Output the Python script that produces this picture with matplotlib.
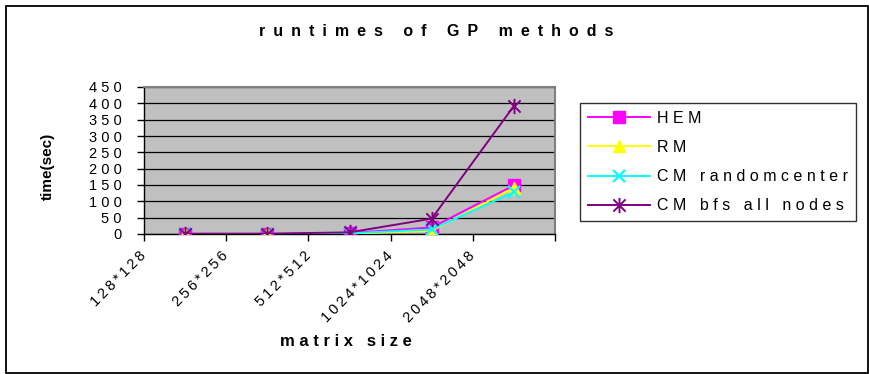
import matplotlib
matplotlib.use("Agg")
import matplotlib.pyplot as plt
from matplotlib.path import Path
from matplotlib.patches import Rectangle

# ---- data ----
categories = ["128*128", "256*256", "512*512", "1024*1024", "2048*2048"]
hem = [0.5, 0.5, 3, 20, 149]
rm = [0.3, 0.4, 1, 10, 141]
cm_random = [0.3, 0.4, 2, 14, 128]
cm_bfs = [0.8, 1, 5, 47, 392]
series_names = ["HEM", "RM", "CM randomcenter", "CM bfs all nodes"]
yticks = [0, 50, 100, 150, 200, 250, 300, 350, 400, 450]

FONT = ["Liberation Sans", "DejaVu Sans"]
plt.rcParams["font.family"] = FONT


def spaced(s, gap=" ", word=None):
    if word is None:
        word = gap + " " + gap
    return word.join(gap.join(w) for w in s.split(" "))


W, H = 870, 374
fig = plt.figure(figsize=(W / 100, H / 100), dpi=100)
fig.patch.set_facecolor("white")

# outer chart border
fig.patches.append(Rectangle((6 / W, 1 - 373 / H), 862 / W, 367 / H,
                             transform=fig.transFigure, fill=False,
                             edgecolor="black", linewidth=1.3))

ax = fig.add_axes([144 / W, 1 - 234 / H, (555 - 144) / W, (234 - 87) / H])
ax.set_facecolor("#C0C0C0")

xs = [i + 0.5 for i in range(len(categories))]

star = Path([(-1, -1), (1, 1), (-1, 1), (1, -1), (0, -1.25), (0, 1.25)],
            [Path.MOVETO, Path.LINETO, Path.MOVETO, Path.LINETO,
             Path.MOVETO, Path.LINETO])

LW = 1.4
ax.plot(xs, hem, color="#FF00FF", lw=LW, marker="s", ms=8,
        mfc="#FF00FF", mec="#FF00FF", label=spaced(series_names[0]), zorder=3)
ax.plot(xs, rm, color="#FFFF00", lw=LW, marker="^", ms=9,
        mfc="#FFFF00", mec="#FFFF00", label=spaced(series_names[1]), zorder=4)
ax.plot(xs, cm_random, color="#00FFFF", lw=LW, marker="x", ms=9, mew=1.6,
        mec="#00FFFF", label=spaced(series_names[2]), zorder=5)
ax.plot(xs, cm_bfs, color="#800080", lw=LW, marker=star, ms=11, mew=1.4,
        mec="#800080", mfc="none", label=spaced(series_names[3]), zorder=6)

ax.set_xlim(0, len(categories))
ax.set_ylim(0, 450)
ax.set_yticks(yticks)
ax.set_yticklabels([spaced(str(v)) for v in yticks], fontsize=10.5)
ax.set_xticks(range(len(categories) + 1))
ax.set_xticklabels([spaced(c, gap="\u2009") for c in categories] + [""],
                   fontsize=10.5, rotation=45, ha="right",
                   rotation_mode="anchor", va="center")
ax.tick_params(axis="y", direction="out", length=5, width=1, pad=11)
ax.tick_params(axis="x", direction="out", length=5, width=1, pad=9)

ax.yaxis.grid(True, color="black", lw=0.9)
ax.set_axisbelow(True)
for side in ("top", "right"):
    ax.spines[side].set_color("#808080")
    ax.spines[side].set_linewidth(1.5)
for side in ("left", "bottom"):
    ax.spines[side].set_color("black")
    ax.spines[side].set_linewidth(1.0)

leg = ax.legend(loc="upper left", bbox_to_anchor=(580 / W, 1 - 103 / H),
                bbox_transform=fig.transFigure, borderaxespad=0,
                frameon=True, fancybox=False, fontsize=11.5,
                handlelength=3.9, handletextpad=0.44, labelspacing=0.88,
                borderpad=0.5)
leg.get_frame().set_edgecolor("black")
leg.get_frame().set_linewidth(1.0)

fig.text(436 / W, 1 - 31 / H, spaced("runtimes of GP methods", gap="\u2002"),
         ha="center", va="center", fontsize=11.5, fontweight="bold")
fig.text(48 / W, 1 - 166 / H, "time(sec)", rotation=90, ha="center",
         va="center", fontsize=11, fontweight="bold")
fig.text(346 / W, 1 - 341 / H, spaced("matrix size"), ha="center",
         va="center", fontsize=12, fontweight="bold")

fig.savefig("out.png", dpi=100)
